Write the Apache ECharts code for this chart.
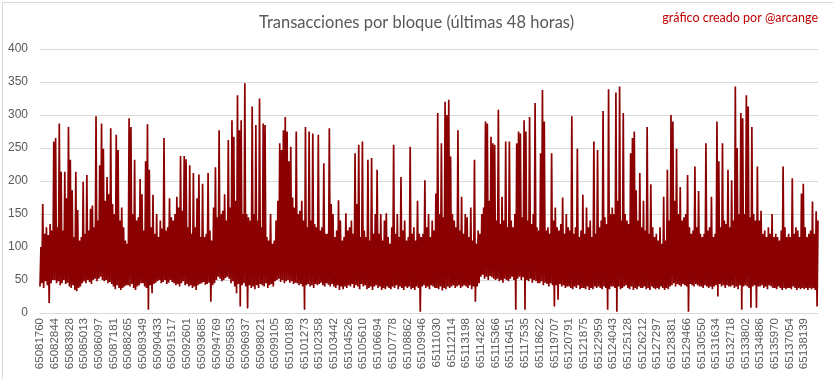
<!DOCTYPE html>
<html><head><meta charset="utf-8">
<script src="https://cdn.jsdelivr.net/npm/echarts@6/dist/echarts.min.js"></script>
<style>html,body{margin:0;padding:0;background:#fff}#c{width:833px;height:379px}</style>
</head><body><div id="c"></div>
<script>
const titleText = 'Transacciones por bloque (últimas 48 horas)';
const creditText = 'gráfico creado por @arcange';
const tickLabels = ['65081760','65082844','65083928','65085013','65086097','65087181','65088265','65089349','65090433','65091517','65092601','65093685','65094769','65095853','65096937','65098021','65099105','65100189','65101273','65102358','65103442','65104526','65105610','65106694','65107778','65108862','65109946','65111030','65112114','65113198','65114282','65115366','65116451','65117535','65118622','65119707','65120791','65121875','65122959','65124043','65125128','65126212','65127297','65128381','65129466','65130550','65131634','65132718','65133802','65134886','65135970','65137054','65138139'];
const yTicks = [0,50,100,150,200,250,300,350,400];
// upper excursions, 8 per label interval
const highs = [
100,165,120,130,118,135,125,260,
265,130,287,214,125,214,174,282,
232,186,115,214,156,110,115,199,
120,209,125,158,163,130,298,140,
224,287,249,170,206,180,280,165,
150,270,247,140,160,130,110,105,
295,282,150,232,140,145,203,180,
125,230,286,217,130,179,120,150,
115,140,128,265,125,130,174,145,
140,150,176,160,238,155,238,233,
130,224,120,212,130,174,210,115,
196,115,120,212,125,110,160,221,
145,277,150,155,180,140,262,160,
292,267,170,330,277,292,150,348,
150,145,140,313,150,285,140,325,
130,287,285,115,110,150,105,110,
140,170,257,247,277,297,275,230,
252,175,160,275,150,155,170,140,
282,130,275,140,272,135,130,270,
125,130,227,120,120,280,165,150,
115,125,171,140,110,115,151,125,
130,140,120,242,165,255,115,260,
125,115,232,110,235,120,150,217,
120,150,110,140,151,115,105,130,
255,120,150,115,206,125,140,110,
115,252,120,130,110,170,120,115,
120,201,130,150,115,140,125,181,
303,150,257,145,320,300,323,237,
150,140,130,277,125,176,120,150,
145,115,160,110,232,105,125,120,
150,160,290,287,170,267,257,255,
140,308,135,176,140,260,130,260,
140,130,150,257,275,272,145,292,
275,140,297,135,150,318,130,125,
242,338,290,125,130,120,242,140,
160,130,125,135,175,120,150,130,
125,298,120,130,249,115,125,179,
120,160,130,140,115,260,120,247,
130,140,306,145,135,339,150,160,
150,334,170,343,140,303,150,140,
135,242,265,275,186,140,212,130,
170,125,282,120,195,130,115,120,
110,130,105,176,110,217,140,300,
290,170,249,150,191,140,145,150,
209,130,120,125,222,130,185,120,
115,120,257,125,130,176,115,120,
290,230,130,257,140,135,217,130,
201,140,343,250,150,303,295,150,
330,313,145,282,150,140,222,140,
155,120,125,115,130,120,150,115,
120,115,110,125,222,130,115,120,
115,204,120,130,125,115,181,196,
130,115,120,125,169,120,154,140
];
// lower excursions, 8 per label interval
const lows = [
40,45,38,48,42,15,45,50,
50,45,48,42,45,50,44,46,
40,38,42,35,33,38,40,45,
48,45,50,47,44,50,52,48,
52,55,50,48,50,45,47,44,
40,36,42,38,35,38,40,42,
42,40,44,38,35,40,42,45,
45,40,38,5,42,30,44,46,
48,50,45,47,50,44,46,50,
47,45,42,44,40,45,48,42,
44,40,42,38,40,35,42,44,
45,47,43,44,46,17,42,45,
50,55,52,48,50,53,55,52,
45,48,40,30,44,10,42,45,
40,7,42,38,40,36,42,38,
44,42,40,45,38,42,44,40,
48,50,52,47,50,45,48,50,
46,48,44,46,45,42,44,40,
5,42,44,40,42,38,44,42,
44,46,42,40,45,43,40,44,
40,38,42,35,40,36,40,38,
42,40,44,38,42,40,36,44,
40,42,36,38,40,35,40,42,
38,40,35,38,36,40,38,36,
40,38,42,36,40,38,35,40,
38,40,36,38,35,40,38,2,
40,42,38,40,36,42,40,38,
38,36,40,34,38,36,40,38,
40,42,38,40,42,38,40,42,
40,38,42,36,40,17,40,45,
55,58,52,55,50,56,54,52,
50,52,48,50,46,52,50,48,
52,55,50,5,52,55,50,54,
5,50,48,52,46,50,48,45,
45,48,42,46,44,40,45,42,
10,42,20,44,40,42,38,40,
40,38,36,40,38,42,36,38,
38,36,40,35,38,36,40,38,
40,38,36,40,38,5,36,40,
40,38,2,40,36,38,40,42,
38,36,40,35,38,36,40,38,
38,40,36,38,35,40,38,36,
38,36,40,38,35,38,36,40,
42,45,40,44,42,40,44,42,
40,2,44,42,40,44,42,40,
40,38,42,40,38,40,36,40,
42,25,44,40,42,38,42,40,
40,42,38,40,36,42,5,40,
42,40,38,8,40,42,8,40,
40,42,38,40,36,42,40,38,
38,36,40,38,35,38,36,38,
38,36,40,38,35,38,36,38,
36,38,35,38,36,38,35,10
];
const perLabel = 16;
const values = [];
const cats = [];
for (let i = 0; i < highs.length; i++) {
  values.push(lows[i]);
  values.push(highs[i]);
}
for (let i = 0; i < values.length; i++) {
  cats.push(i % perLabel === 0 ? (tickLabels[i / perLabel] || '') : '');
}
const chart = echarts.init(document.getElementById('c'), null, {renderer: 'canvas'});
const txt = '#595959';
chart.setOption({
  animation: false,
  backgroundColor: '#ffffff',
  title: [
    {text: titleText, left: 'center', top: 9,
     textStyle: {fontFamily: 'Lato', fontSize: 16.5, fontWeight: 'normal', color: txt}},
    {text: creditText, right: 10, top: 6,
     textStyle: {fontFamily: 'Lato', fontSize: 12.5, fontWeight: 'normal', color: '#c00000'}}
  ],
  graphic: [{type: 'rect', left: 0, top: 0, shape: {x: 0.5, y: 0.5, width: 831, height: 377},
    style: {fill: 'none', stroke: '#d9d9d9', lineWidth: 1}, silent: true}],
  grid: {left: 40, right: 15, top: 49, bottom: 66, containLabel: false},
  xAxis: {
    type: 'category', data: cats, boundaryGap: false,
    axisLine: {show: true, lineStyle: {color: '#d9d9d9'}},
    axisTick: {show: false},
    splitLine: {show: false},
    axisLabel: {interval: perLabel - 1, rotate: 90, margin: 5, color: txt,
      fontFamily: 'Liberation Sans', fontSize: 11.5, hideOverlap: false}
  },
  yAxis: {
    type: 'value', min: yTicks[0], max: yTicks[yTicks.length - 1], interval: 50,
    axisLine: {show: false}, axisTick: {show: false},
    splitLine: {lineStyle: {color: '#d9d9d9', width: 1}},
    axisLabel: {color: txt, fontFamily: 'Liberation Sans', fontSize: 12, margin: 12}
  },
  series: [{
    type: 'line', data: values, showSymbol: false, symbol: 'none',
    sampling: null, lineStyle: {color: '#8b0000', width: 1.7}, itemStyle: {color: '#8b0000'}
  }]
});
</script></body></html>
